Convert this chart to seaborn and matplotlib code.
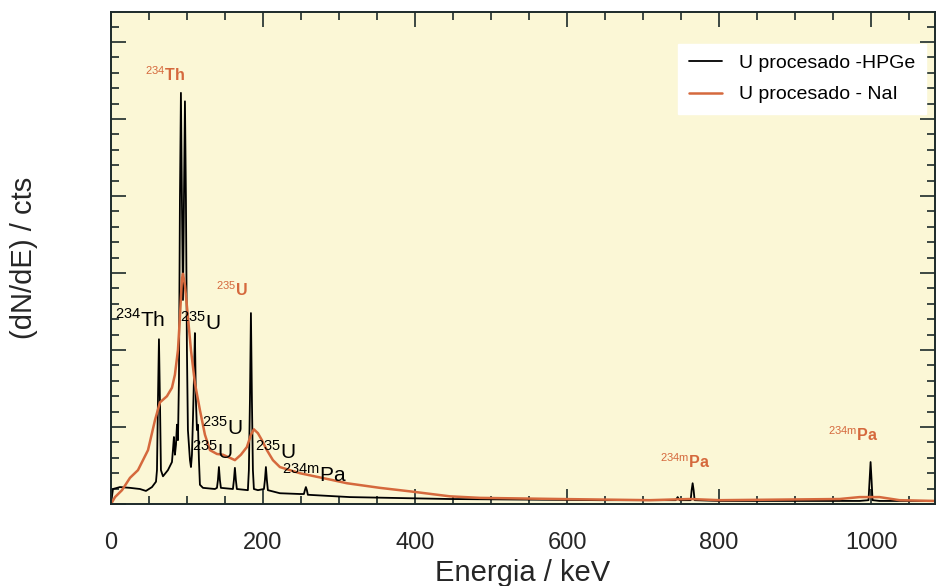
import numpy as np
import pandas as pd
import seaborn as sns
import matplotlib.pyplot as plt
from matplotlib.ticker import MultipleLocator

sns.set_style('ticks')
plt.rcParams['font.family'] = ['Liberation Sans', 'DejaVu Sans']
plt.rcParams['mathtext.fontset'] = 'custom'
plt.rcParams['mathtext.rm'] = 'Liberation Sans'

# HPGe spectrum (keV, arbitrary counts)
hpge_e = [0, 2.6, 11.8, 25.0, 38.1, 46.0, 53.9, 59.2, 60.5, 61.8, 63.1, 64.4, 65.7,
          68.4, 74.9, 80.2, 81.5, 82.8, 84.1, 85.5, 86.8, 88.1, 89.4, 90.7, 92.0,
          93.3, 94.7, 96.0, 97.3, 98.6, 99.9, 101.2, 103.9, 105.2, 106.5, 107.8,
          109.1, 110.4, 111.7, 113.1, 114.4, 115.7, 117.0, 121.0, 136.7, 139.4,
          140.7, 142.0, 143.3, 144.6, 160.4, 161.7, 163.0, 164.3, 165.6, 180.1,
          181.4, 182.8, 184.1, 185.4, 186.7, 188.0, 193.3, 201.2, 202.5, 203.8,
          205.1, 206.4, 222.2, 248.5, 253.8, 255.1, 256.4, 257.7, 259.0, 314.2,
          445.7, 642.9, 742.9, 745.5, 748.1, 762.6, 763.9, 765.2, 766.5, 767.8,
          800.7, 984.8, 996.6, 998.0, 999.3, 1000.6, 1001.9, 1011.1, 1083.4]
hpge_c = [0, 0.195, 0.22, 0.21, 0.195, 0.17, 0.22, 0.29, 0.44, 1.35, 2.14, 1.35, 0.44,
          0.36, 0.44, 0.545, 0.70, 0.87, 0.64, 0.77, 1.03, 0.83, 1.61, 3.95, 5.34,
          3.95, 2.65, 3.95, 5.23, 3.95, 2.0, 0.96, 0.57, 0.48, 0.64, 1.09, 1.61,
          2.22, 1.35, 0.96, 1.03, 0.57, 0.25, 0.21, 0.195, 0.21, 0.31, 0.48, 0.31,
          0.21, 0.195, 0.31, 0.47, 0.31, 0.195, 0.18, 0.44, 1.35, 2.48, 1.35, 0.44,
          0.195, 0.18, 0.195, 0.31, 0.48, 0.31, 0.18, 0.14, 0.13, 0.13, 0.18, 0.22,
          0.18, 0.12, 0.09, 0.065, 0.05, 0.05, 0.09, 0.05, 0.05, 0.18, 0.27, 0.18,
          0.05, 0.04, 0.04, 0.05, 0.31, 0.545, 0.31, 0.05, 0.04, 0.04]

# NaI spectrum
nai_e = [0, 5.3, 14.5, 25.0, 35.5, 48.7, 57.9, 64.4, 73.6, 80.2, 84.1, 88.1, 90.7,
         93.3, 94.7, 97.3, 101.2, 105.2, 110.4, 117.0, 123.6, 130.2, 139.4, 147.3,
         156.5, 163.0, 170.9, 178.8, 184.1, 188.0, 193.3, 198.5, 205.1, 213.0,
         222.2, 248.5, 291.9, 310.3, 353.7, 397.1, 445.7, 485.2, 590.3, 708.7,
         761.3, 800.7, 958.5, 984.8, 1011.1, 1037.4, 1083.4]
nai_c = [0, 0.09, 0.18, 0.34, 0.44, 0.70, 1.09, 1.32, 1.40, 1.51, 1.68, 2.0, 2.43,
         2.92, 2.99, 2.84, 2.43, 2.0, 1.57, 1.22, 0.90, 0.70, 0.65, 0.64, 0.60,
         0.57, 0.64, 0.74, 0.90, 0.97, 0.92, 0.83, 0.70, 0.57, 0.48, 0.40, 0.31,
         0.27, 0.21, 0.16, 0.10, 0.08, 0.065, 0.05, 0.065, 0.05, 0.065, 0.09,
         0.09, 0.05, 0.04]

# peak labels: (text, energy, height)
orange_labels = [(r'$^{234}$Th', 71, 5.57), (r'$^{235}$U', 159, 2.78),
                 (r'$^{234\mathrm{m}}$Pa', 755, 0.55), (r'$^{234\mathrm{m}}$Pa', 976, 0.90)]
black_labels = [(r'$^{234}$Th', 39, 2.39), (r'$^{235}$U', 117, 2.36),
                (r'$^{235}$U', 147, 0.99), (r'$^{235}$U', 133, 0.68),
                (r'$^{235}$U', 216, 0.68), (r'$^{234\mathrm{m}}$Pa', 268, 0.38)]

orange = '#D5693D'
axcol = '#1c2a2a'

fig = plt.figure(figsize=(9.39, 5.86), dpi=100)
ax = fig.add_axes([0.1182, 0.1399, 0.8775, 0.8396])
ax.set_facecolor('#FBF7D6')

hpge = pd.DataFrame({'E': hpge_e, 'c': hpge_c})
nai = pd.DataFrame({'E': nai_e, 'c': nai_c})
sns.lineplot(data=hpge, x='E', y='c', color='black', lw=1.3, estimator=None,
             label='U procesado -HPGe', ax=ax)
sns.lineplot(data=nai, x='E', y='c', color=orange, lw=1.8, estimator=None,
             label='U procesado - NaI', ax=ax)

for txt, x, y in orange_labels:
    ax.text(x, y, txt, color=orange, fontsize=11.5, fontweight='bold', ha='center', va='center')
for txt, x, y in black_labels:
    ax.text(x, y, txt, color='black', fontsize=15, ha='center', va='center')

ax.set_xlim(0, 1084)
ax.set_ylim(0, 6.39)
ax.xaxis.set_major_locator(MultipleLocator(200))
ax.xaxis.set_minor_locator(MultipleLocator(50))
ax.yaxis.set_major_locator(MultipleLocator(1))
ax.yaxis.set_minor_locator(MultipleLocator(0.2))
ax.tick_params(which='both', direction='in', top=True, right=True, color=axcol, width=1.2)
ax.tick_params(which='major', length=11, labelsize=17, pad=20)
ax.tick_params(which='minor', length=5.5)
ax.set_yticklabels([])
for s in ax.spines.values():
    s.set_color(axcol)
    s.set_linewidth(1.4)

ax.set_xlabel('Energia / keV', fontsize=21)
ax.set_ylabel('(dN/dE) / cts', fontsize=21)
ax.xaxis.set_label_coords(0.5, -0.112)
ax.yaxis.set_label_coords(-0.088, 0.5)

leg = ax.legend(loc='upper right', bbox_to_anchor=(1.001, 0.955), fontsize=14,
                frameon=True, fancybox=False, handlelength=1.7, labelspacing=0.7,
                borderpad=0.55, handletextpad=0.9)
leg.get_frame().set_facecolor('white')
leg.get_frame().set_edgecolor('white')
leg.get_frame().set_alpha(1)
for t in leg.get_texts():
    t.set_color('black')

fig.savefig('out.png', dpi=100)
